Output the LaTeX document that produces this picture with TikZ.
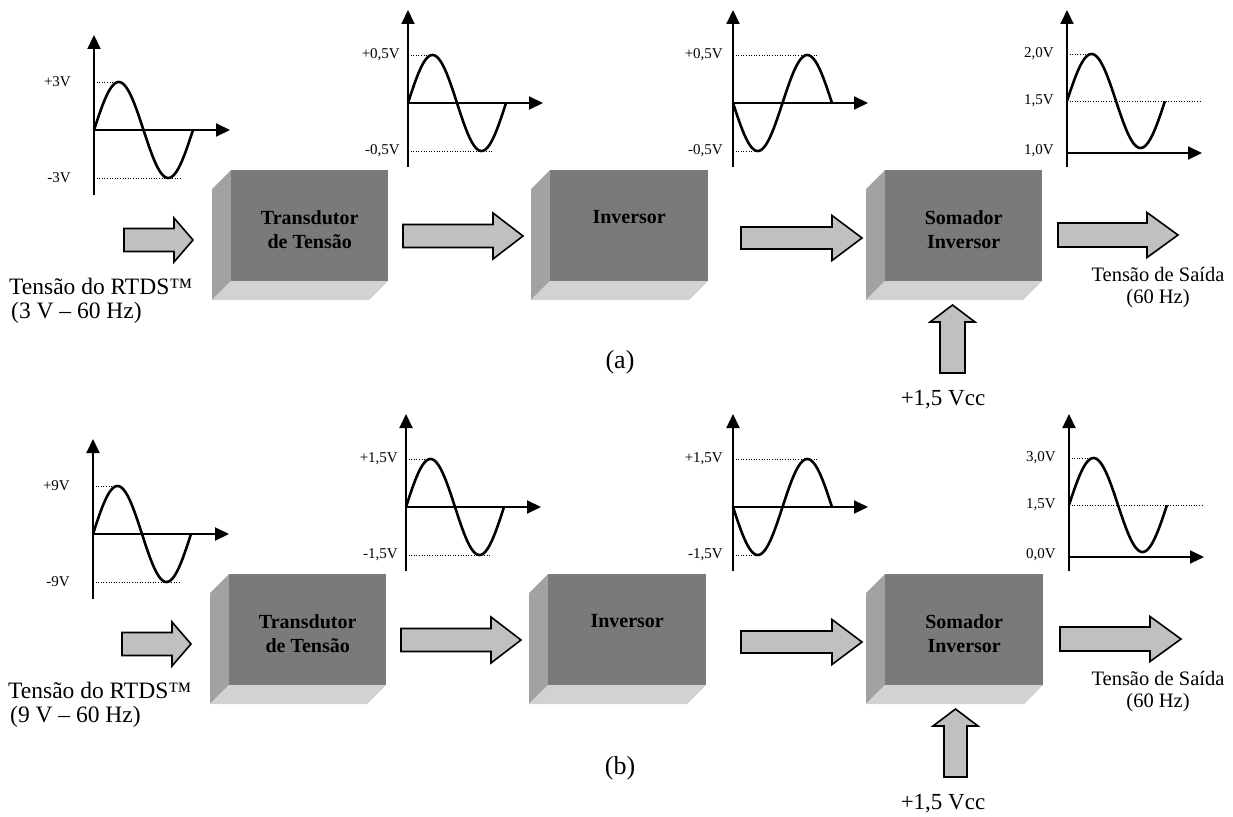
\documentclass[tikz,border=0pt]{standalone}
\usepackage{fontspec}
\setmainfont{Liberation Serif}
\usetikzlibrary{arrows.meta}
\definecolor{frontgray}{RGB}{122,122,122}
\definecolor{leftgray}{RGB}{162,162,162}
\definecolor{bottomgray}{RGB}{210,210,210}
\definecolor{edgegray}{RGB}{95,95,95}
\definecolor{arrowgray}{RGB}{192,192,192}
\newcommand{\cubefaces}[4]{%
  \fill[leftgray] (#1-19,#2+19) -- (#1,#2) -- (#1,#4) -- (#1-19,#4+19) -- cycle;
  \fill[bottomgray] (#1-19,#4+19) -- (#1,#4) -- (#3,#4) -- (#3-19,#4+19) -- cycle;
  \draw[edgegray, line width=1pt] (#1,#2+0.5) -- (#3,#2+0.5);
}
\newcommand{\blockarr}[6]{%
  \draw[barrow] (#1,#4-#5) -- (#2,#4-#5) -- (#2,#4-#6) -- (#3,#4) -- (#2,#4+#6) -- (#2,#4+#5) -- (#1,#4+#5) -- cycle;
}
\newcommand{\axes}[5]{%
  \draw[axis] (#1,#3) -- (#1,#2);
  \draw[axis] (#1,#4) -- (#5,#4);
}
\begin{document}
\begin{tikzpicture}[x=1pt,y=-1pt,
  lbl/.style={font=\fontsize{15}{17}\selectfont, inner sep=0pt, anchor=east},
  bigtxt/.style={font=\fontsize{23.5}{24}\selectfont, inner sep=0pt},
  outtxt/.style={font=\fontsize{20.5}{22}\selectfont, inner sep=0pt, align=center, anchor=north},
  boxtxt/.style={font=\fontsize{20}{24}\selectfont\bfseries, align=center, inner sep=0pt, anchor=north},
  axis/.style={line width=2pt, -{Triangle[length=14pt,width=13pt]}},
  wave/.style={line width=2.6pt},
  guide/.style={line width=0.9pt, dash pattern=on 1pt off 1.6pt},
  barrow/.style={draw=black, line width=1.6pt, fill=arrowgray, line join=miter},
  boxfront/.style={fill=frontgray, inner sep=0pt, anchor=north west, minimum height=111pt}
]
\useasboundingbox (0,0) rectangle (1233,816);

% ================= ROW (a) =================
% graph 1
\draw[guide] (94,82) -- (118,82);
\draw[guide] (94,178) -- (180,178);
\axes{94}{35}{195}{130}{230}
\draw[wave] plot[domain=0:1, samples=80, smooth] ({94+99*\x},{130-48*sin(360*\x)});
\node[lbl] (g1hi) at (71,82) {+3V};
\node[lbl] (g1lo) at (71,178) {-3V};
% graph 2
\draw[guide] (408,55) -- (432,55);
\draw[guide] (408,151) -- (493,151);
\axes{408}{10}{167}{103}{543}
\draw[wave] plot[domain=0:1, samples=80, smooth] ({408+98*\x},{103-48*sin(360*\x)});
\node[lbl] (g2hi) at (400,55) {+0,5V};
\node[lbl] (g2lo) at (400,151) {-0,5V};
% graph 3
\draw[guide] (733,55) -- (818,55);
\draw[guide] (733,151) -- (757,151);
\axes{733}{10}{167}{103}{868}
\draw[wave] plot[domain=0:1, samples=80, smooth] ({733+99*\x},{103+48*sin(360*\x)});
\node[lbl] (g3hi) at (723,55) {+0,5V};
\node[lbl] (g3lo) at (723,151) {-0,5V};
% graph 4
\draw[guide] (1067,54) -- (1090,54);
\draw[guide] (1067,101) -- (1200,101);
\axes{1067}{10}{167}{153}{1202}
\draw[wave] plot[domain=0:1, samples=80, smooth] ({1067+98*\x},{101-47*sin(360*\x)});
\node[lbl] (g4hi) at (1054,54) {2,0V};
\node[lbl] (g4mid) at (1054,101) {1,5V};
\node[lbl] (g4lo) at (1054,151) {1,0V};
% boxes
\cubefaces{231}{170}{388}{281}
\node[boxfront, minimum width=157pt] (transA) at (231,170) {};
\node[boxtxt] (transAt) at ([yshift=-40pt]transA.north) {Transdutor\\de Tensão};
\cubefaces{550}{170}{708}{281}
\node[boxfront, minimum width=158pt] (invA) at (550,170) {};
\node[boxtxt] (invAt) at ([yshift=-40pt]invA.north) {Inversor};
\cubefaces{885}{170}{1042}{281}
\node[boxfront, minimum width=157pt] (somA) at (885,170) {};
\node[boxtxt] (somAt) at ([yshift=-40pt]somA.north) {Somador\\Inversor};
% arrows
\blockarr{124}{174}{193}{240}{11.5}{22}
\blockarr{403}{493}{523}{236}{11.5}{23}
\blockarr{741}{832}{862}{238}{11}{22.5}
\blockarr{1058}{1147}{1178}{235}{12}{22.5}
\draw[barrow] (940,373) -- (940,322) -- (930,322) -- (952.5,305) -- (975,322) -- (965,322) -- (965,373) -- cycle;
% texts
\node[bigtxt, anchor=north west, align=left] (inA) at (9,278) {Tensão do RTDS™\\\hspace{2pt}(3 V – 60 Hz)};
\node[outtxt] (outA) at (1158,267) {Tensão de Saída\\(60 Hz)};
\node[bigtxt, font=\fontsize{23}{24}\selectfont, anchor=base] (vccA) at (943,405) {+1,5 Vcc};
\node[bigtxt, font=\fontsize{26}{28}\selectfont, anchor=base] (capA) at (620,368) {(a)};

% ================= ROW (b) =================
\begin{scope}[yshift=-404pt]
\draw[guide] (93,82) -- (117,82);
\draw[guide] (93,178) -- (179,178);
\axes{93}{35}{195}{130}{229}
\draw[wave] plot[domain=0:1, samples=80, smooth] ({93+98*\x},{130-48*sin(360*\x)});
\node[lbl] (h1hi) at (70,82) {+9V};
\node[lbl] (h1lo) at (70,178) {-9V};
\draw[guide] (406,55) -- (430,55);
\draw[guide] (406,151) -- (491,151);
\axes{406}{10}{167}{103}{541}
\draw[wave] plot[domain=0:1, samples=80, smooth] ({406+98*\x},{103-48*sin(360*\x)});
\node[lbl] (h2hi) at (398,55) {+1,5V};
\node[lbl] (h2lo) at (398,151) {-1,5V};
\draw[guide] (733,55) -- (818,55);
\draw[guide] (733,151) -- (757,151);
\axes{733}{10}{167}{103}{868}
\draw[wave] plot[domain=0:1, samples=80, smooth] ({733+99*\x},{103+48*sin(360*\x)});
\node[lbl] (h3hi) at (723,55) {+1,5V};
\node[lbl] (h3lo) at (723,151) {-1,5V};
\draw[guide] (1069,54) -- (1092,54);
\draw[guide] (1069,101) -- (1202,101);
\axes{1069}{10}{167}{153}{1204}
\draw[wave] plot[domain=0:1, samples=80, smooth] ({1069+98*\x},{101-47*sin(360*\x)});
\node[lbl] (h4hi) at (1056,54) {3,0V};
\node[lbl] (h4mid) at (1056,101) {1,5V};
\node[lbl] (h4lo) at (1056,151) {0,0V};
\cubefaces{229}{170}{386}{281}
\node[boxfront, minimum width=157pt] (transB) at (229,170) {};
\node[boxtxt] (transBt) at ([yshift=-40pt]transB.north) {Transdutor\\de Tensão};
\cubefaces{548}{170}{706}{281}
\node[boxfront, minimum width=158pt] (invB) at (548,170) {};
\node[boxtxt] (invBt) at ([yshift=-40pt]invB.north) {Inversor};
\cubefaces{885}{170}{1043}{281}
\node[boxfront, minimum width=158pt] (somB) at (885,170) {};
\node[boxtxt] (somBt) at ([yshift=-40pt]somB.north) {Somador\\Inversor};
\blockarr{122}{172}{191}{240}{11.5}{22}
\blockarr{401}{491}{521}{236}{11.5}{23}
\blockarr{741}{832}{862}{238}{11}{22.5}
\blockarr{1060}{1150}{1181}{235}{12}{22.5}
\draw[barrow] (944,373) -- (944,322) -- (933,322) -- (955.5,305) -- (978,322) -- (967,322) -- (967,373) -- cycle;
\node[bigtxt, anchor=north west, align=left] (inB) at (8,278) {Tensão do RTDS™\\\hspace{2pt}(9 V – 60 Hz)};
\node[outtxt] (outB) at (1158,267) {Tensão de Saída\\(60 Hz)};
\node[bigtxt, font=\fontsize{23}{24}\selectfont, anchor=base] (vccB) at (943,405) {+1,5 Vcc};
\node[bigtxt, font=\fontsize{26}{28}\selectfont, anchor=base] (capB) at (620,370) {(b)};
\end{scope}
\end{tikzpicture}
\end{document}
